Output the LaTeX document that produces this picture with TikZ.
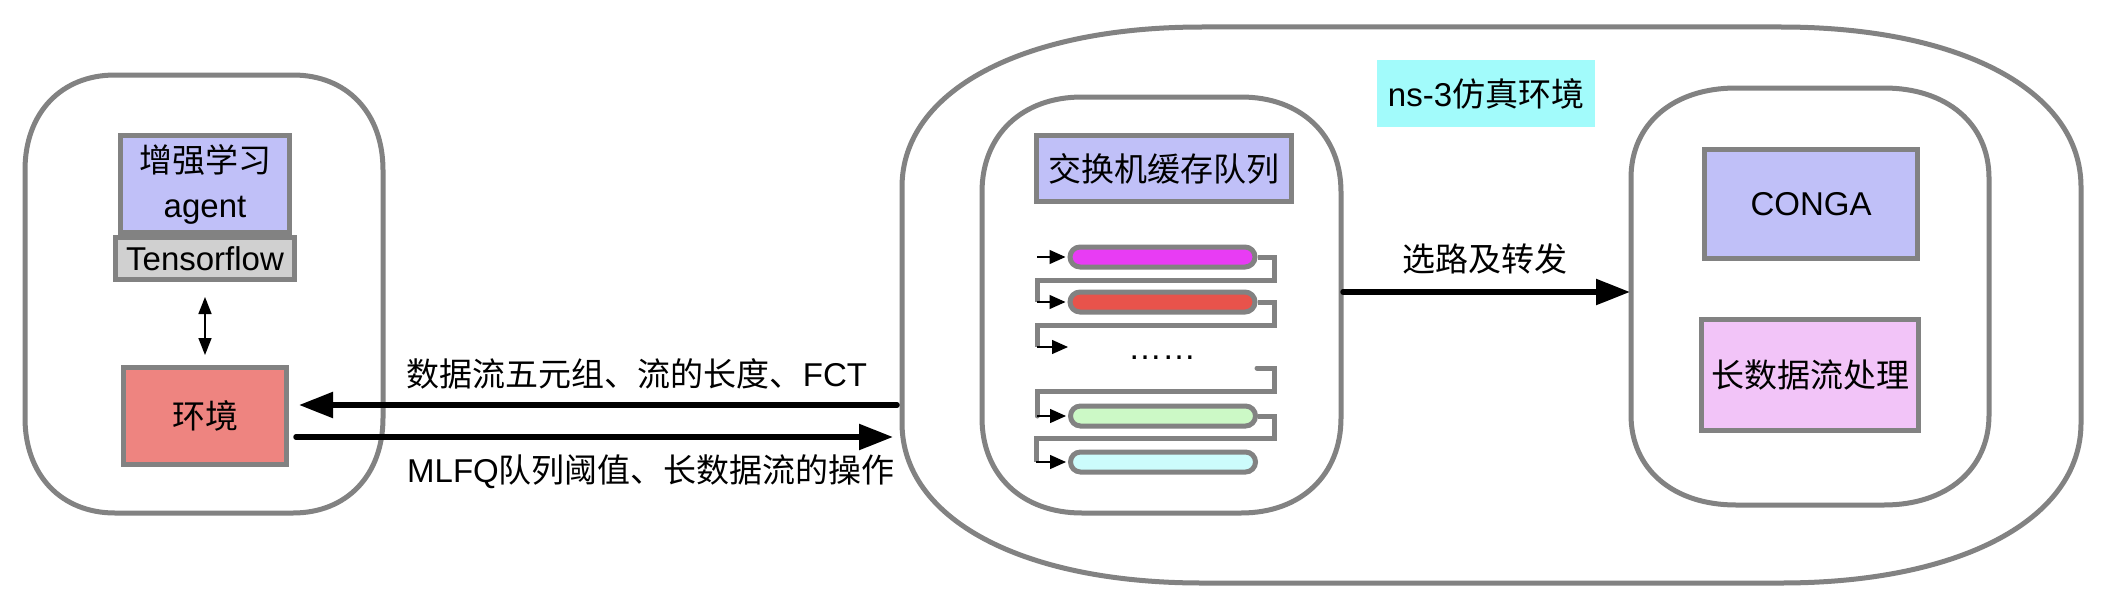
\documentclass[tikz,border=0pt]{standalone}
\usepackage{fontspec}
\setmainfont{Liberation Sans}
\newfontfamily\cjk{Noto Sans CJK SC}
\usetikzlibrary{arrows.meta,calc}
\definecolor{bord}{HTML}{828282}
\definecolor{lav}{HTML}{C0C0F8}
\definecolor{tfgray}{HTML}{D0D0D0}
\definecolor{envred}{HTML}{EE8480}
\definecolor{pinkbox}{HTML}{F2C4F8}
\definecolor{nscyan}{HTML}{A2FBFB}
\definecolor{qmag}{HTML}{E83CF4}
\definecolor{qred}{HTML}{E8534B}
\definecolor{qgreen}{HTML}{CCF9C6}
\definecolor{qcyan}{HTML}{CCFCFC}
\tikzset{
  txt/.style={font=\fontsize{33}{40}\selectfont},
  box/.style={txt, draw=bord, line width=5pt, inner sep=0pt, align=center},
  blobline/.style={draw=bord, line width=5pt},
  bar/.style={draw=bord, line width=5pt, rounded corners=10pt, minimum width=185pt, minimum height=20pt, inner sep=0pt},
  qlink/.style={draw=bord, line width=5pt, line join=miter},
  qarrow/.style={draw=black, line width=1.3pt, shorten >=2pt, -{Triangle[length=16pt,width=14pt]}},
  bigarrow/.style={line width=5.5pt, line cap=round, -{Triangle[length=34pt,width=25pt]}},
}
\newcommand\drawblob[6]{%
  \draw[blobline] ({#1+#5},#2) -- ({#3-#5},#2)
   .. controls ({#3-0.4*#5},#2) and (#3,{#2+0.4*#6}) .. (#3,{#2+#6})
   -- (#3,{#4-#6})
   .. controls (#3,{#4-0.4*#6}) and ({#3-0.4*#5},#4) .. ({#3-#5},#4)
   -- ({#1+#5},#4)
   .. controls ({#1+0.4*#5},#4) and (#1,{#4-0.4*#6}) .. (#1,{#4-#6})
   -- (#1,{#2+#6})
   .. controls (#1,{#2+0.4*#6}) and ({#1+0.4*#5},#2) .. cycle;}
\begin{document}
\begin{tikzpicture}[x=1pt,y=-1pt]
\fill[white] (0,0) rectangle (2108,610);
\useasboundingbox (0,0) rectangle (2108,610);

% ---------- left part ----------
\drawblob{25}{75}{383}{513}{90}{95}
\node[box, fill=lav, minimum width=169pt, minimum height=97pt, font=\fontsize{33}{45}\selectfont] (agent) at (205,184) {{\cjk 增强学习}\\agent};
\node[box, fill=tfgray, minimum width=179pt, minimum height=42pt] (tf) at (205,258.5) {Tensorflow};
\node[box, fill=envred, minimum width=163pt, minimum height=97pt] (env) at (205,416) {\cjk 环境};
\draw[line width=1.5pt, {Triangle[length=17pt,width=13pt]}-{Triangle[length=17pt,width=13pt]}] ([yshift=-15pt]tf.south) -- ([yshift=10pt]env.north);

% ---------- ns-3 part ----------
\drawblob{902}{27}{2081}{583}{300}{160}
\node[fill=nscyan, minimum width=218pt, minimum height=67pt, txt, inner sep=0pt] (nslabel) at (1486,93.5) {ns-3{\cjk 仿真环境}};
\drawblob{982}{97}{1341}{513}{100}{95}
\drawblob{1631}{88}{1989}{505}{105}{90}

\node[box, fill=lav, minimum width=255pt, minimum height=66pt] (sw) at (1164,168.5) {\cjk 交换机缓存队列};
\node[box, fill=lav, minimum width=213pt, minimum height=109pt] (conga) at (1811,204) {CONGA};
\node[box, fill=pinkbox, minimum width=217pt, minimum height=111pt] (elephant) at (1810,375) {\cjk 长数据流处理};

% big arrows between left and ns-3
\coordinate (nsin) at (897,405);
\coordinate (nsout) at (893,437);
\draw[bigarrow] (nsin) -- ($(nsin -| env.east)+(10,0)$);
\draw[bigarrow] ($(nsout -| env.east)+(7,0)$) -- (nsout);
\node[txt] (lab1) at (637,374) {{\cjk 数据流五元组、流的长度、}FCT};
\node[txt] (lab2) at (651,472) {MLFQ{\cjk 队列阈值、长数据流的操作}};

% routing arrow
\coordinate (swE) at (1343,292);
\coordinate (rtW) at (1630,292);
\draw[bigarrow] (swE) -- (rtW);
\node[txt] (lab3) at (1485,259) {\cjk 选路及转发};

% queues
\node[bar, fill=qmag] (q1) at (1162.5,257) {};
\node[bar, fill=qred] (q2) at (1162.5,302) {};
\node[bar, fill=qgreen] (q3) at (1163,416) {};
\node[bar, fill=qcyan] (q4) at (1163,462) {};

\coordinate (in1) at (1037,257);
\coordinate (j1) at (1037,302);
\coordinate (j2) at (1037,347);
\coordinate (j2e) at (1070,347);
\coordinate (j3s) at (1257,368);
\coordinate (j3) at (1037,416);
\coordinate (j4) at (1036,462);

\draw[qarrow] (in1) -- (q1.west);
\draw[qlink] (q1.east) -- (1274,257) -- (1274,280) -- (1037,280) -- (j1);
\draw[qarrow] (j1) -- (q2.west);
\draw[qlink] (q2.east) -- (1274,302) -- (1274,325) -- (1037,325) -- (j2);
\draw[qarrow] (j2) -- (j2e);
\node[font=\fontsize{34}{40}\selectfont, anchor=base, inner sep=0pt] (dots) at (1162,359) {……};
\draw[qlink, line cap=round] (j3s) -- (1274,368) -- (1274,391) -- (1037,391) -- (j3);
\draw[qarrow] (j3) -- (q3.west);
\draw[qlink] (q3.east) -- (1274,416) -- (1274,438) -- (1036,438) -- (j4);
\draw[qarrow] (j4) -- (q4.west);
\end{tikzpicture}
\end{document}
